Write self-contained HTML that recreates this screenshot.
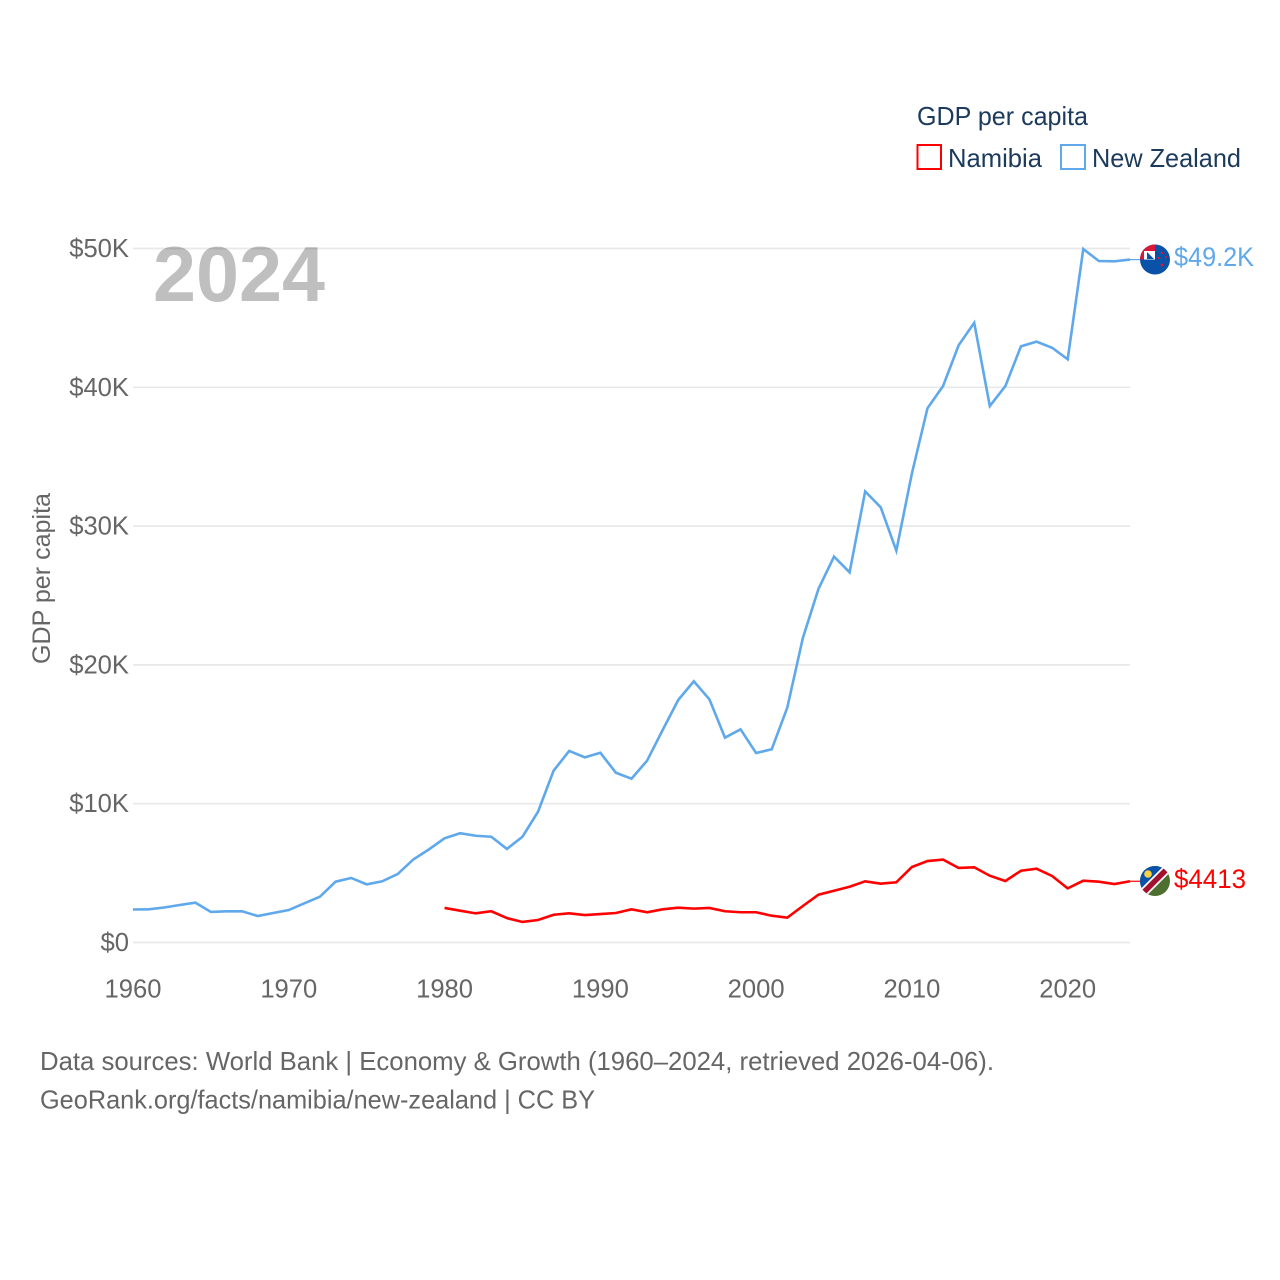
<!DOCTYPE html>
<html lang="en">
<head>
<meta charset="utf-8">
<title>GDP per capita: Namibia and New Zealand</title>
<style>
  html, body { margin: 0; padding: 0; background: #fff; }
  svg { display: block; }
  text { font-family: "Liberation Sans", sans-serif; }
</style>
</head>
<body>
<svg id="chart" xmlns="http://www.w3.org/2000/svg" width="1280" height="1280" viewBox="0 0 1280 1280">
  <defs>
    <clipPath id="nz-clip"><circle cx="1155" cy="259.5" r="15"/></clipPath>
    <clipPath id="na-clip"><circle cx="1155" cy="881" r="15"/></clipPath>
  </defs>
  <rect width="1280" height="1280" fill="#ffffff"/>
  <g id="grid"></g>
  <text x="153" y="301" font-size="78" font-weight="700" fill="#000" fill-opacity="0.25" textLength="172" lengthAdjust="spacingAndGlyphs">2024</text>
  <g id="yticks"></g>
  <g id="xticks"></g>
  <text transform="translate(50,664) rotate(-90)" font-size="25" fill="#666666" textLength="171" lengthAdjust="spacingAndGlyphs">GDP per capita</text>
  <g id="series"></g>

  <g>
    <text x="917" y="125" font-size="26" fill="#1b3a5c" textLength="171" lengthAdjust="spacingAndGlyphs">GDP per capita</text>
    <rect x="917.5" y="145" width="23.5" height="24" fill="none" stroke="#ff0000" stroke-width="2"/>
    <text x="948" y="167" font-size="26" fill="#1b3a5c" textLength="94" lengthAdjust="spacingAndGlyphs">Namibia</text>
    <rect x="1061" y="145" width="24" height="24" fill="none" stroke="#5fa8ec" stroke-width="2"/>
    <text x="1092" y="167" font-size="26" fill="#1b3a5c" textLength="149" lengthAdjust="spacingAndGlyphs">New Zealand</text>
  </g>

  <g clip-path="url(#nz-clip)">
    <rect x="1140" y="244.5" width="30" height="30" fill="#0a52a8"/>
    <rect x="1140" y="244.5" width="15" height="15" fill="#d8173a"/>
    <rect x="1144" y="251" width="11" height="8.500" fill="#ffffff"/>
    <path d="M1147 252l7 7h-7z" fill="#0a52a8"/>
    <circle cx="1162" cy="253" r="1.200" fill="#d8173a"/>
    <circle cx="1166" cy="257" r="1" fill="#d8173a"/>
    <circle cx="1159" cy="258" r="1.200" fill="#d8173a"/>
    <circle cx="1162" cy="265" r="1.400" fill="#d8173a"/>
  </g>
  <g clip-path="url(#na-clip)">
    <rect x="1140" y="866" width="30" height="30" fill="#4d6f2f"/>
    <path d="M1140 866h30l-30 30z" fill="#0a52a8"/>
    <path d="M1143 893l24-24" stroke="#ffffff" stroke-width="9" fill="none"/>
    <path d="M1142 894l26-26" stroke="#a3112f" stroke-width="5.500" fill="none"/>
    <circle cx="1148" cy="874" r="3.800" fill="#ffd23f"/>
  </g>
  <text x="1174" y="266" font-size="26.500" fill="#5fa8ec" textLength="80" lengthAdjust="spacingAndGlyphs">$49.2K</text>
  <text x="1174" y="888" font-size="26.500" fill="#ff0000" textLength="72" lengthAdjust="spacingAndGlyphs">$4413</text>

  <g>
    <text x="40" y="1070" font-size="26" fill="#666666" textLength="954" lengthAdjust="spacingAndGlyphs">Data sources: World Bank | Economy &amp; Growth (1960–2024, retrieved 2026-04-06).</text>
    <text x="40" y="1108.500" font-size="26" fill="#666666" textLength="555" lengthAdjust="spacingAndGlyphs">GeoRank.org/facts/namibia/new-zealand | CC BY</text>
  </g>

<script>
const yTickValues = [0, 10000, 20000, 30000, 40000, 50000];
const yTickLabels = ["$0", "$10K", "$20K", "$30K", "$40K", "$50K"];
const xTickYears = [1960, 1970, 1980, 1990, 2000, 2010, 2020];
const xTickLabels = ["1960", "1970", "1980", "1990", "2000", "2010", "2020"];

const nzStartYear = 1960;
const newZealandValues = [
  2378, 2390, 2520, 2700, 2870, 2200, 2250, 2250, 1910, 2125,
  2340, 2820, 3300, 4380, 4650, 4190, 4410, 4940, 5990, 6710,
  7510, 7870, 7690, 7620, 6740, 7620, 9420, 12380, 13800, 13340,
  13670, 12230, 11800, 13100, 15310, 17470, 18820, 17520, 14760, 15360,
  13650, 13920, 16920, 21940, 25470, 27800, 26670, 32500, 31350, 28230,
  33800, 38490, 40090, 43030, 44650, 38650, 40090, 42950, 43290, 42850,
  42020, 49960, 49100, 49080, 49200
];
const namibiaStartYear = 1980;
const namibiaValues = [
  2490, 2290, 2100, 2250, 1760, 1480, 1620, 2000, 2100, 1980,
  2050, 2125, 2390, 2180, 2390, 2510, 2440, 2490, 2250, 2180,
  2180, 1930, 1790, 2630, 3440, 3730, 4020, 4410, 4240, 4340,
  5440, 5870, 5970, 5370, 5420, 4810, 4430, 5170, 5320, 4790,
  3900, 4450, 4380, 4210, 4413
];

const SVG_NS = "http://www.w3.org/2000/svg";
const xScale = function (year) { return 133 + (year - 1960) * (1130 - 133) / 64; };
const yScale = function (value) { return 942.5 - value * (942.5 - 248.5) / 50000; };

function makeEl(tag, parentId) {
  const el = document.createElementNS(SVG_NS, tag);
  document.getElementById(parentId).appendChild(el);
  return el;
}

yTickValues.forEach(function (value, i) {
  const line = makeEl("line", "grid");
  
  
  line.setAttribute("x1", 133);
  line.setAttribute("x2", 1130);
  line.setAttribute("y1", yScale(value));
  line.setAttribute("y2", yScale(value));
  line.setAttribute("stroke", "#e9e9e9");
  line.setAttribute("stroke-width", 1.7);

  const label = makeEl("text", "yticks");
  
  
  label.setAttribute("x", 129);
  label.setAttribute("y", yScale(value) + 8.5);
  label.setAttribute("text-anchor", "end");
  label.setAttribute("font-size", 25.6);
  label.setAttribute("fill", "#666666");
  label.textContent = yTickLabels[i];
});

xTickYears.forEach(function (year, i) {
  const label = makeEl("text", "xticks");
  
  
  label.setAttribute("x", xScale(year));
  label.setAttribute("y", 997.7);
  label.setAttribute("text-anchor", "middle");
  label.setAttribute("font-size", 25.6);
  label.setAttribute("fill", "#666666");
  label.textContent = xTickLabels[i];
});

function drawSeries(values, startYear, color, seriesName, flagEdge) {
  const points = values.map(function (value, i) {
    return xScale(startYear + i).toFixed(2) + "," + yScale(value).toFixed(2);
  });
  const path = makeEl("polyline", "series");
  
  
  path.setAttribute("aria-label", seriesName);
  path.setAttribute("points", points.join(" "));
  path.setAttribute("fill", "none");
  path.setAttribute("stroke", color);
  path.setAttribute("stroke-width", 2.6);
  path.setAttribute("stroke-linejoin", "miter");

  const lastValue = values[values.length - 1];
  const connector = makeEl("line", "series");
  
  
  connector.setAttribute("x1", xScale(startYear + values.length - 1));
  connector.setAttribute("x2", flagEdge);
  connector.setAttribute("y1", yScale(lastValue));
  connector.setAttribute("y2", yScale(lastValue));
  connector.setAttribute("stroke", color);
  connector.setAttribute("stroke-width", 1.2);
}

drawSeries(newZealandValues, nzStartYear, "#5fa8ec", "New Zealand", 1140);
drawSeries(namibiaValues, namibiaStartYear, "#ff0000", "Namibia", 1140);
</script>
</svg>
</body>
</html>
